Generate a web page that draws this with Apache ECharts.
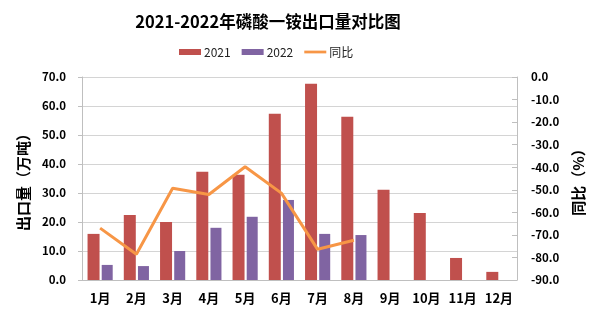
<!DOCTYPE html>
<html><head><meta charset="utf-8">
<script src="https://cdn.jsdelivr.net/npm/echarts@6/dist/echarts.min.js"></script>
<style>html,body{margin:0;padding:0;background:#fff}#c{width:605px;height:321px}</style>
</head><body><div id="c"></div>
<script>
var categories = ['1月','2月','3月','4月','5月','6月','7月','8月','9月','10月','11月','12月'];
var exports2021 = [15.9, 22.4, 20.0, 37.3, 36.3, 57.3, 67.7, 56.3, 31.1, 23.1, 7.6, 2.8];
var exports2022 = [5.2, 4.8, 10.0, 18.0, 21.8, 27.6, 15.9, 15.5, null, null, null, null];
var yoy = [-67.0, -78.6, -49.3, -52.1, -39.8, -51.5, -76.4, -72.4, null, null, null, null];
var leftTicks = [0, 10, 20, 30, 40, 50, 60, 70];
var rightTicks = [-90, -80, -70, -60, -50, -40, -30, -20, -10, 0];

var FONT = '"Noto Sans CJK SC", "DejaVu Sans", sans-serif';
var chart = echarts.init(document.getElementById('c'), null, {renderer: 'canvas'});
chart.setOption({
  animation: false,
  backgroundColor: '#fff',
  title: {
    text: '2021-2022年磷酸一铵出口量对比图',
    left: 263, top: 8, textAlign: 'center',
    textStyle: {fontFamily: FONT, fontSize: 16.5, fontWeight: 'bold', color: '#000'}
  },
  legend: {
    left: 174, top: 41,
    itemWidth: 22, itemHeight: 6, itemGap: 11,
    textStyle: {fontFamily: FONT, fontSize: 12, color: '#222', padding: [0, 0, 0, -2]},
    data: [
      {name: '2021', icon: 'rect'},
      {name: '2022', icon: 'rect'},
      {name: '同比', icon: 'path://M0,0 L24,0 L24,3 L0,3 Z', itemStyle: {color: '#F79646'}}
    ]
  },
  grid: {left: 82, right: 88, top: 77, bottom: 41, containLabel: false},
  xAxis: {
    type: 'category', data: categories,
    axisLine: {lineStyle: {color: '#bfbfbf', width: 1}},
    axisTick: {show: false},
    axisLabel: {interval: 0, fontFamily: FONT, fontSize: 13, fontWeight: 'bold', color: '#000', margin: 12}
  },
  yAxis: [
    {
      type: 'value', min: 0, max: 70, interval: 10,
      name: '出口量（万吨）', nameLocation: 'middle', nameGap: 50, nameRotate: 90,
      nameTextStyle: {fontFamily: FONT, fontSize: 15, fontWeight: 'bold', color: '#000'},
      axisLine: {show: true, lineStyle: {color: '#bfbfbf'}},
      axisTick: {show: true, length: 4, lineStyle: {color: '#bfbfbf'}},
      splitLine: {lineStyle: {color: '#d4d4d4', width: 1}},
      axisLabel: {fontFamily: FONT, fontSize: 11.5, fontWeight: 'bold', color: '#000', margin: 16,
        formatter: function(v){ return v.toFixed(1); }}
    },
    {
      type: 'value', min: -90, max: 0, interval: 10, position: 'right',
      name: '同比（%）', nameLocation: 'middle', nameGap: 54, nameRotate: 90,
      nameTextStyle: {fontFamily: FONT, fontSize: 15, fontWeight: 'bold', color: '#000'},
      axisLine: {show: true, lineStyle: {color: '#bfbfbf'}},
      axisTick: {show: true, inside: true, length: 5, lineStyle: {color: '#bfbfbf'}},
      splitLine: {show: false},
      axisLabel: {fontFamily: FONT, fontSize: 11.5, fontWeight: 'bold', color: '#000', margin: 14,
        formatter: function(v){ return v.toFixed(1); }}
    }
  ],
  series: [
    {name: '2021', type: 'bar', data: exports2021, barWidth: 12, barGap: '18%',
      itemStyle: {color: '#C0504D'}},
    {name: '2022', type: 'bar', data: exports2022, barWidth: 11,
      itemStyle: {color: '#8064A2'}},
    {name: '同比', type: 'line', yAxisIndex: 1, data: yoy, symbol: 'none',
      lineStyle: {color: '#F79646', width: 3}, itemStyle: {color: '#F79646'}}
  ]
});
</script></body></html>
